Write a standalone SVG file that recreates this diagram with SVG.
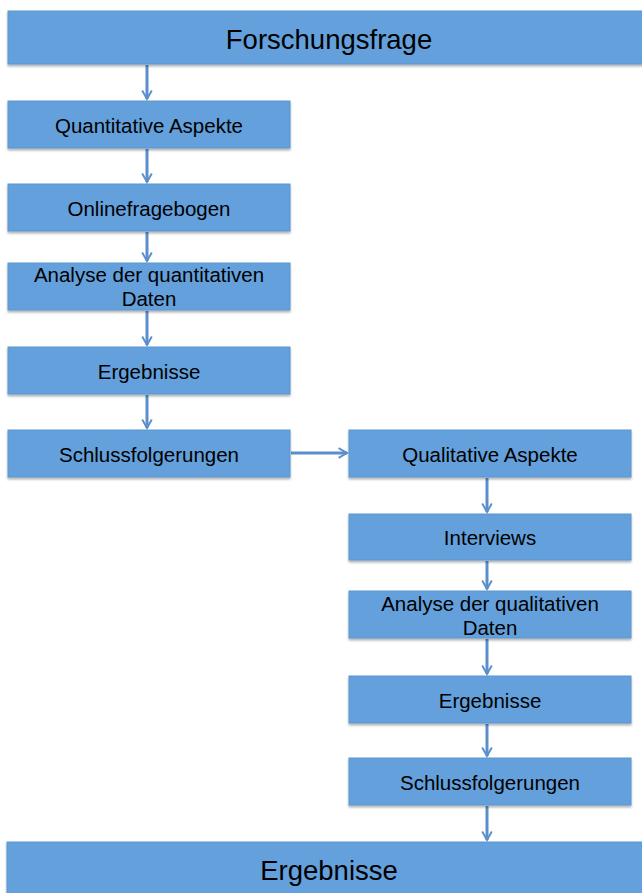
<svg xmlns="http://www.w3.org/2000/svg" width="642" height="893" viewBox="0 0 642 893">
<defs>
<style>
.b{fill:#64a0dc;stroke:#5a95d0;stroke-width:1;filter:url(#sh)}
.t{font-family:"Liberation Sans",Arial,sans-serif;font-size:20.5px;fill:#000;text-anchor:middle}
.T{font-family:"Liberation Sans",Arial,sans-serif;font-size:27.5px;fill:#000;text-anchor:middle}
.c{stroke:#5b8fcc;stroke-width:3;fill:none;marker-end:url(#ah)}
</style>
<filter id="sh" x="-5%" y="-10%" width="110%" height="130%">
<feDropShadow dx="0" dy="2" stdDeviation="1.2" flood-color="#000" flood-opacity="0.3"/>
</filter>
<marker id="ah" viewBox="0 0 10 10" refX="8" refY="5" markerWidth="4" markerHeight="4" orient="auto" markerUnits="strokeWidth">
<path d="M1,1 L8,5 L1,9" fill="none" stroke="#5b8fcc" stroke-width="1.6"/>
</marker>
</defs>
<rect width="642" height="893" fill="#fff"/>
<g id="connectors">
<line class="c" x1="147" y1="65" x2="147" y2="99"/>
<line class="c" x1="147" y1="149" x2="147" y2="182"/>
<line class="c" x1="147" y1="232" x2="147" y2="261"/>
<line class="c" x1="147" y1="311" x2="147" y2="345"/>
<line class="c" x1="147" y1="395" x2="147" y2="428"/>
<line class="c" x1="291" y1="453" x2="347" y2="453"/>
<line class="c" x1="487" y1="478" x2="487" y2="512"/>
<line class="c" x1="487" y1="561" x2="487" y2="589"/>
<line class="c" x1="487" y1="639" x2="487" y2="674"/>
<line class="c" x1="487" y1="724" x2="487" y2="756"/>
<line class="c" x1="487" y1="806" x2="487" y2="840"/>
</g>
<g id="forschungsfrage"><rect class="b" x="8" y="11" width="640" height="53"/><text class="T" x="329" y="49">Forschungsfrage</text></g>
<g id="quant-aspekte"><rect class="b" x="8" y="101" width="282" height="47"/><text class="t" x="149" y="133">Quantitative Aspekte</text></g>
<g id="onlinefragebogen"><rect class="b" x="8" y="184" width="282" height="47"/><text class="t" x="149" y="216">Onlinefragebogen</text></g>
<g id="analyse-quant"><rect class="b" x="8" y="263" width="282" height="47"/><text class="t" x="149" y="282">Analyse der quantitativen</text><text class="t" x="149" y="306">Daten</text></g>
<g id="ergebnisse-quant"><rect class="b" x="8" y="347" width="282" height="47"/><text class="t" x="149" y="379">Ergebnisse</text></g>
<g id="schluss-quant"><rect class="b" x="8" y="430" width="282" height="47"/><text class="t" x="149" y="462">Schlussfolgerungen</text></g>
<g id="qual-aspekte"><rect class="b" x="349" y="430" width="282" height="47"/><text class="t" x="490" y="462">Qualitative Aspekte</text></g>
<g id="interviews"><rect class="b" x="349" y="514" width="282" height="46"/><text class="t" x="490" y="545">Interviews</text></g>
<g id="analyse-qual"><rect class="b" x="349" y="591" width="282" height="47"/><text class="t" x="490" y="611">Analyse der qualitativen</text><text class="t" x="490" y="635">Daten</text></g>
<g id="ergebnisse-qual"><rect class="b" x="349" y="676" width="282" height="47"/><text class="t" x="490" y="708">Ergebnisse</text></g>
<g id="schluss-qual"><rect class="b" x="349" y="758" width="282" height="47"/><text class="t" x="490" y="790">Schlussfolgerungen</text></g>
<g id="ergebnisse"><rect class="b" x="7" y="842" width="640" height="60"/><text class="T" x="329" y="880">Ergebnisse</text></g>
</svg>
